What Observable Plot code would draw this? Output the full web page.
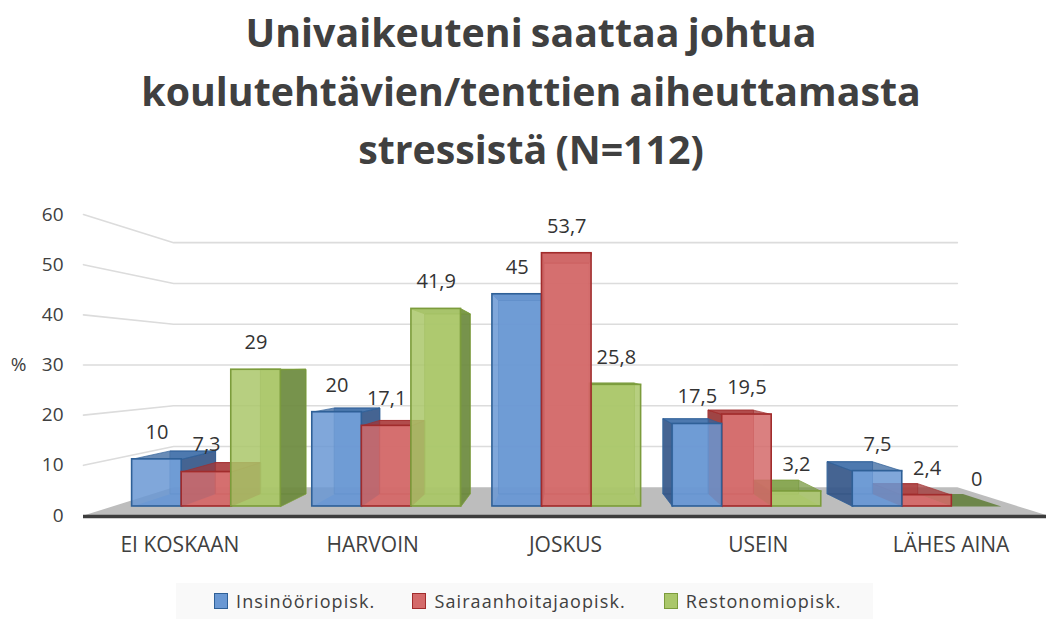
<!DOCTYPE html>
<html><head><meta charset="utf-8">
<script src="https://cdn.jsdelivr.net/npm/d3@7"></script>
<script src="https://cdn.jsdelivr.net/npm/@observablehq/plot@0.6"></script>
<style>
html,body{margin:0;padding:0;background:#fff;overflow:hidden;width:1046px;height:619px;font-family:"Open Sans",sans-serif;color:#404040}
#title{height:185px;box-sizing:border-box;padding-top:3px;text-align:center;font-weight:700;font-size:39.3px;line-height:58.5px;padding-left:16px;word-spacing:-2px}
#chart svg{display:block}
#legend{margin-left:176px;width:697px;height:36px;background:#f9f9f9;display:flex;align-items:center;font-size:18px;letter-spacing:1.1px}
.item{display:flex;align-items:center}
.sw{width:12px;height:14px;margin-right:8px;border:1.5px solid;box-sizing:content-box}
</style></head><body>
<div id="title">Univaikeuteni saattaa johtua<br>koulutehtävien/tenttien aiheuttamasta<br>stressistä (N=112)</div>
<div id="chart"></div>
<div id="legend"></div>
<script>
const categories = ["EI KOSKAAN", "HARVOIN", "JOSKUS", "USEIN", "LÄHES AINA"];
const series = ["Insinööriopisk.", "Sairaanhoitajaopisk.", "Restonomiopisk."];
const insinoori = [10, 20, 45, 17.5, 7.5];
const sairaanhoitaja = [7.3, 17.1, 53.7, 19.5, 2.4];
const restonomi = [29, 41.9, 25.8, 3.2, 0];
const labelsText = [["10","20","45","17,5","7,5"],["7,3","17,1","53,7","19,5","2,4"],["29","41,9","25,8","3,2","0"]];
const yTicks = [0, 10, 20, 30, 40, 50, 60];
const palette = [
  {front:"#6a98d3", stroke:"#2f6097", side:"#2c4a78", top:"#37659f"},
  {front:"#d46a6a", stroke:"#a12c2c", side:"#8a2c2c", top:"#a23636"},
  {front:"#aac76a", stroke:"#7c9c3c", side:"#5f7c36", top:"#789843"}
];
const values = [insinoori, sairaanhoitaja, restonomi];

// perspective toward the centre of the chart box
const vanishU = 2.5, vanishV = 30;
const depthFront = 0.94, depthBack = 0.857, depthWall = 0.813;
const pitch = 0.994, barW = 0.2735, groupMid = 2.507;
const P = (u, v, f) => ({x: vanishU + (u - vanishU) * f, y: vanishV + (v - vanishV) * f});

// bars in paint order: farthest from the centre first
const bars = [];
categories.forEach((c, i) => series.forEach((s, j) => {
  const cu = groupMid + (i - 2) * pitch + (j - 1) * barW;
  bars.push({c, s, i, j, v: values[j][i], u1: cu - barW / 2, u2: cu + barW / 2, cu, text: labelsText[j][i]});
}));
bars.sort((a, b) => Math.abs(b.cu - vanishU) - Math.abs(a.cu - vanishU));

function poly(id, pts, fill, stroke) { return pts.map(p => ({id, ...p, fill, stroke})); }
function barMarks(b) {
  const col = palette[b.j];
  const c = (u, v, f) => P(u, v, f);
  const faces = [];
  // floor, back, sides, top
  faces.push(...poly("b", [c(b.u1,0,depthFront),c(b.u2,0,depthFront),c(b.u2,0,depthBack),c(b.u1,0,depthBack)], b.v > 0 ? col.front : col.side, "none"));
  if (b.v > 0) {
    faces.push(...poly("k", [c(b.u1,0,depthBack),c(b.u2,0,depthBack),c(b.u2,b.v,depthBack),c(b.u1,b.v,depthBack)], col.front, col.stroke));
    const su = b.cu < vanishU ? b.u2 : b.u1;
    faces.push(...poly("s", [c(su,0,depthFront),c(su,0,depthBack),c(su,b.v,depthBack),c(su,b.v,depthFront)], col.side, col.stroke));
    faces.push(...poly("t", [c(b.u1,b.v,depthFront),c(b.u2,b.v,depthFront),c(b.u2,b.v,depthBack),c(b.u1,b.v,depthBack)], col.top, col.stroke));
  }
  const a = c(b.u1, 0, depthFront), d = c(b.u2, b.v, depthFront);
  const out = [Plot.line(faces, {x:"x", y:"y", z:"id", fill:"fill", stroke:"stroke", strokeWidth:1, curve:"linear-closed", fillOpacity:b.v > 0 ? 0.75 : 0.85, strokeOpacity:0.7})];
  if (b.v > 0) out.push(Plot.rect([b], {x1:()=>a.x, x2:()=>d.x, y1:()=>a.y, y2:()=>d.y, fill:col.front, fillOpacity:0.85, stroke:col.stroke, strokeWidth:1.6, inset:0}));
  return out;
}

const gridData = yTicks.filter(t => t > 0).flatMap(t => [P(0,t,1),P(0,t,depthWall),P(5,t,depthWall)].map(p => ({t, ...p})));
const floor = [P(0,0,1),P(5,0,1),P(5,0,depthWall),P(0,0,depthWall)];
const labelData = bars.map(b => ({...P(b.cu, b.v, depthFront), text:b.text}));

const plot = Plot.plot({
  width:1046, height:398, marginTop:29, marginBottom:68, marginLeft:83, marginRight:0,
  x:{domain:[0,5], range:[83,1047]},
  y:{domain:[0,60]},
  style:{fontFamily:"Open Sans", color:"#404040", background:"transparent", overflow:"hidden"},
  marks:[
    Plot.line(gridData, {x:"x", y:"y", z:"t", stroke:"#dcdcdc", strokeWidth:1.6}),
    Plot.line(floor, {x:"x", y:"y", fill:"#bdbdbd", stroke:"none", curve:"linear-closed"}),
    Plot.ruleY([0], {x1:()=>0, x2:()=>5, stroke:"#3d3d3d", strokeWidth:3.5, dy:1}),
    ...bars.flatMap(barMarks),
    Plot.text(labelData, {x:"x", y:"y", text:"text", dy:-27, fontSize:20, fill:"#333"}),
    Plot.text(["%"], {x:()=>0, y:()=>30, dx:-65, fontSize:19, fill:"#404040"}),
    Plot.axisY({ticks:yTicks, tickSize:0, tickPadding:20, label:null, fontSize:19, tickFormat:d=>d, anchor:"left"}),
    Plot.axisX({ticks:categories.map((c,i)=>i+0.5), tickSize:0, tickPadding:22, label:null, fontSize:21, tickFormat:d=>categories[Math.floor(d)]})
  ]
});
document.getElementById("chart").append(plot);

const legend = document.getElementById("legend");
const legendGaps = ["38px", "37px", "38px"];
series.forEach((s, j) => {
  const it = document.createElement("div");
  it.className = "item";
  it.style.marginLeft = legendGaps[j];
  const sw = document.createElement("span");
  sw.className = "sw";
  sw.style.background = palette[j].front;
  sw.style.borderColor = palette[j].stroke;
  const t = document.createElement("span");
  t.textContent = s;
  it.append(sw, t);
  legend.append(it);
});
</script>
</body></html>
